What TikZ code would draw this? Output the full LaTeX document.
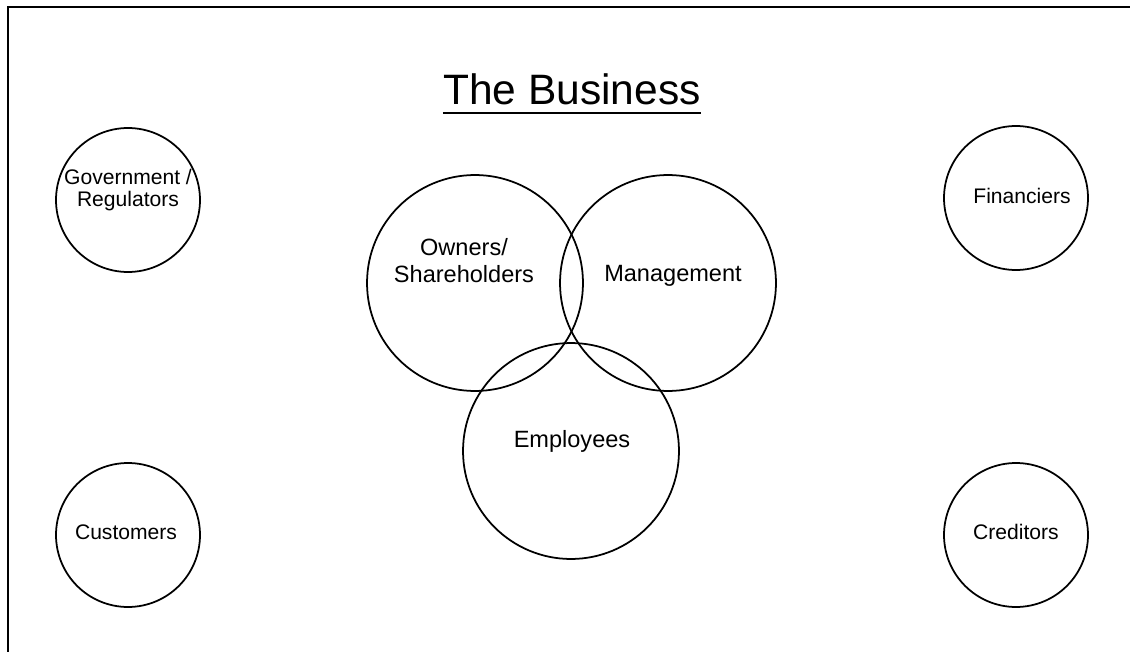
\documentclass[tikz,border=0pt]{standalone}
\usepackage{fontspec}
\setmainfont{Liberation Sans}
\usetikzlibrary{calc}

\begin{document}
\begin{tikzpicture}[x=0.02cm, y=-0.02cm,
    party/.style={circle, draw, line width=1pt, minimum size=2.88cm, inner sep=0pt},
    core/.style={circle, draw, line width=1pt, minimum size=4.32cm, inner sep=0pt},
    small/.style={font=\fontsize{12}{12.5}\selectfont, align=center, inner sep=0pt},
    big/.style={font=\fontsize{13.4}{15.3}\selectfont, align=center, inner sep=0pt}]
    \useasboundingbox (0,0) rectangle (1130,652);

    % Frame (runs to the right and bottom edges)
    \draw[line width=1.3pt] (1130,7) -- (8,7) -- (8,652);

    % Title, underlined by hand
    \node[anchor=base, inner sep=0pt, font=\fontsize{24.2}{28}\selectfont] (title) at (572,105) {The Business};
    \draw[line width=1.3pt] ($(title.base west)+(0,8)$) -- ($(title.base east)+(0,8)$);

    % Outside parties
    \node[party] (gov) at (128,200) {};
    \node[party] (fin) at (1016,198) {};
    \node[party] (cust) at (128,535) {};
    \node[party] (cred) at (1016,535) {};
    \node[small] (govtxt) at (128,190) {Government /\\Regulators};
    \node[small, anchor=base] (fintxt) at (1022,203) {Financiers};
    \node[small, anchor=base] (custtxt) at (126,539) {Customers};
    \node[small, anchor=base] (credtxt) at (1016,539) {Creditors};

    % The three overlapping circles
    \node[core] (own) at (475,283) {};
    \node[core] (mgmt) at (668,283) {};
    \node[core] (emp) at (571,451) {};
    \node[big] (owntxt) at (464,261) {Owners/\\Shareholders};
    \node[big, anchor=base] (mgmttxt) at (673,281) {Management};
    \node[big, anchor=base] (emptxt) at (572,447) {Employees};
\end{tikzpicture}
\end{document}
